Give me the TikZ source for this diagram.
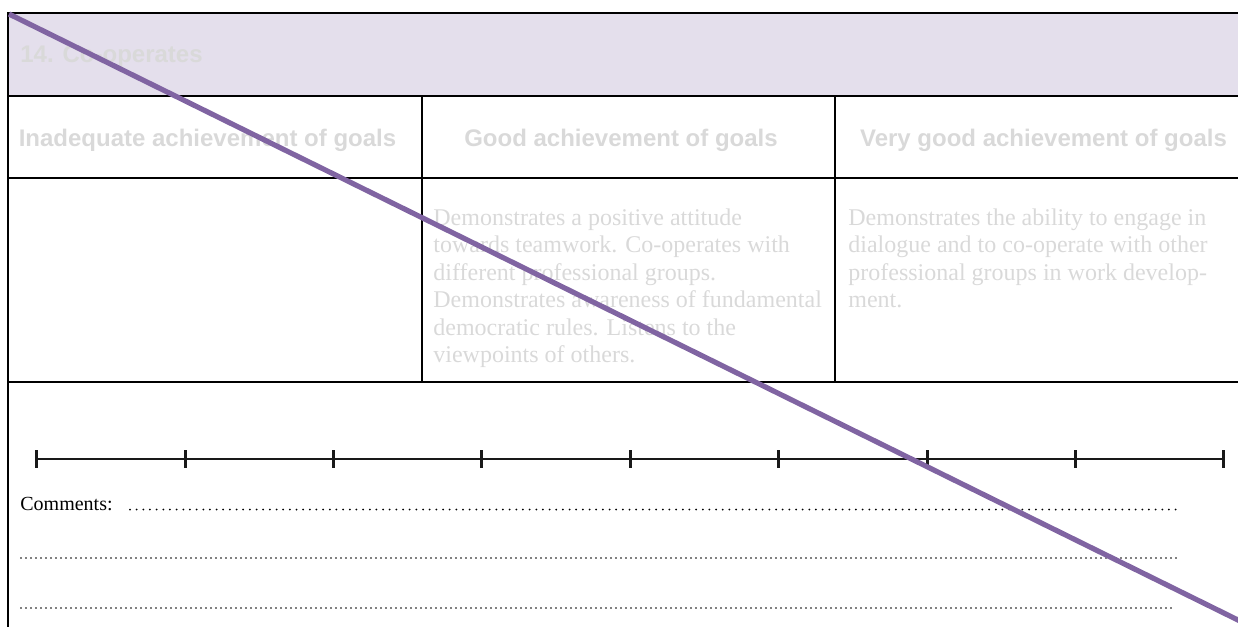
\documentclass[tikz,border=0pt]{standalone}
\usepackage{fontspec}
\setmainfont{Liberation Serif}
\newfontfamily\hdrfont{Liberation Sans}
\definecolor{lav}{HTML}{E4DFEC}
\definecolor{fadetext}{HTML}{D9D9D9}
\definecolor{slashcol}{HTML}{8064A2}
\begin{document}
\begin{tikzpicture}[x=0.5pt,y=-0.5pt,
  rule/.style={line width=1pt,black},
  hdrtext/.style={inner sep=0pt,font=\hdrfont\bfseries\fontsize{12pt}{14pt}\selectfont,text=fadetext},
  bodytext/.style={inner sep=0pt,align=left,font=\fontsize{12pt}{13.75pt}\selectfont,text=fadetext},
  scaleline/.style={line width=1.1pt,black!90},
  tickmark/.style={line width=1.5pt,black!90},
  dotsA/.style={line width=1pt,line cap=round,dash pattern=on 0pt off 3.33pt},
  dotsB/.style={line width=0.8pt,line cap=round,dash pattern=on 0pt off 2.5pt},
  slash/.style={line width=2.6pt,slashcol}]
\useasboundingbox (0,0) rectangle (1238,627);
% header fill
\fill[lav] (8,13) rectangle (1238,96);
% grid
\draw[rule] (8,627) -- (8,13) -- (1238,13);
\draw[rule] (8,96) -- (1238,96);
\draw[rule] (8,178) -- (1238,178);
\draw[rule] (8,382) -- (1238,382);
\draw[rule] (422,96) -- (422,382);
\draw[rule] (835,96) -- (835,382);
% titles
\node[hdrtext,anchor=base west] (title) at (20,62) {14. Co-operates};
\node[hdrtext,anchor=base] (h1) at (207.5,146) {Inadequate achievement of goals};
\node[hdrtext,anchor=base] (h2) at (621,146) {Good achievement of goals};
\node[hdrtext,anchor=base] (h3) at (1043.5,146) {Very good achievement of goals};
% body texts (anchored at the baseline of their last line)
\node[bodytext,anchor=base west] (b2) at (433,362.5) {Demonstrates a positive attitude\\towards teamwork. Co-operates with\\different professional groups.\\Demonstrates awareness of fundamental\\democratic rules. Listens to the\\viewpoints of others.};
\node[bodytext,anchor=base west] (b3) at (848,307.5) {Demonstrates the ability to engage in\\dialogue and to co-operate with other\\professional groups in work develop-\\ment.};
% scale
\coordinate (s0) at (36.7,459);
\coordinate (s8) at (1224,459);
\draw[scaleline] (s0) -- (s8);
\foreach \i in {0,...,8} {
  \draw[tickmark] ({36.7+\i*148.4},450) -- ({36.7+\i*148.4},468);
}
% comments
\node[inner sep=0pt,anchor=base west,font=\fontsize{10pt}{12pt}\selectfont] (comm) at (20,510.5) {Comments:};
\coordinate (d1a) at (130,509.5);
\coordinate (d1b) at (1177,509.5);
\coordinate (d2a) at (21,558);
\coordinate (d2b) at (1179,558);
\coordinate (d3a) at (21,608);
\coordinate (d3b) at (1173,608);
\draw[dotsA] (d1a) -- (d1b);
\draw[dotsB] (d2a) -- (d2b);
\draw[dotsB] (d3a) -- (d3b);
% diagonal strike
\coordinate (p0) at (9,14);
\coordinate (p1) at (1240,621);
\draw[slash] (p0) -- (p1);
\end{tikzpicture}
\end{document}
